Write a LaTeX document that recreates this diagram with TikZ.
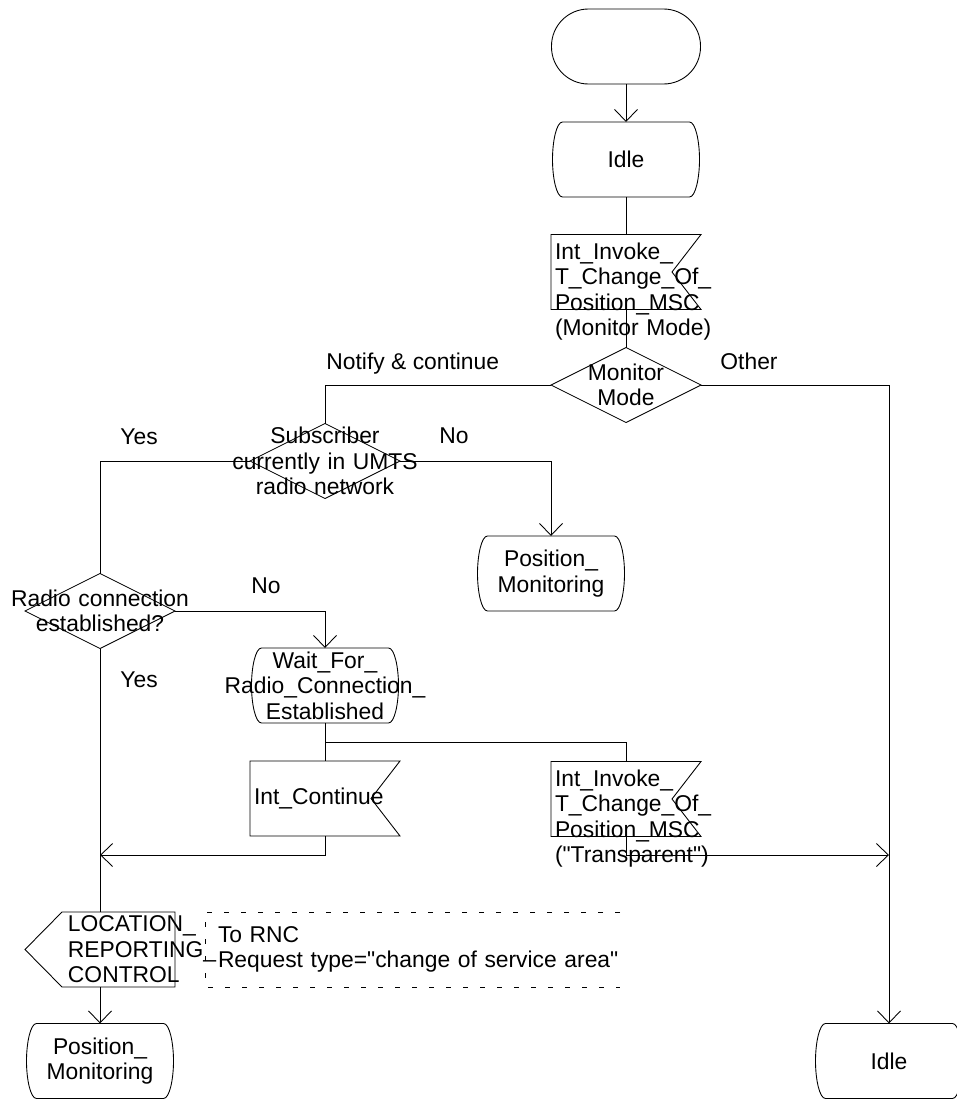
\documentclass[tikz,border=0pt]{standalone}
\usepackage{fontspec}
\setmainfont{Liberation Sans}[Ligatures=TeXOff]
\usetikzlibrary{arrows.meta,calc}

\tikzset{
  ctext/.style={execute at begin node={\leftskip=0pt plus 1fil minus 10cm
      \rightskip=\leftskip\parfillskip=0pt\let\\\par}},
  ltext/.style={execute at begin node={\leftskip=#1\rightskip=0pt plus 1fil minus 10cm
      \parfillskip=0pt\let\\\par}},
  ltext/.default=0pt,
  startbox/.style={draw,rounded corners=0.74cm,minimum width=2.98cm,minimum height=1.5cm},
  statebox/.style={ctext,inner sep=0pt,outer sep=0pt,text width=2.94cm,minimum height=1.5cm,
    append after command={\pgfextra{\pgfinterruptpath
      \draw ([xshift=0.2cm]\tikzlastnode.north west) -- ([xshift=-0.2cm]\tikzlastnode.north east)
        .. controls ([xshift=-0.08cm]\tikzlastnode.north east)
               and ([yshift=-0.38cm]\tikzlastnode.north east) .. (\tikzlastnode.east)
        .. controls ([yshift=0.38cm]\tikzlastnode.south east)
               and ([xshift=-0.08cm]\tikzlastnode.south east) .. ([xshift=-0.2cm]\tikzlastnode.south east)
        -- ([xshift=0.2cm]\tikzlastnode.south west)
        .. controls ([xshift=0.08cm]\tikzlastnode.south west)
               and ([yshift=0.38cm]\tikzlastnode.south west) .. (\tikzlastnode.west)
        .. controls ([yshift=-0.38cm]\tikzlastnode.north west)
               and ([xshift=0.08cm]\tikzlastnode.north west) .. cycle;
      \endpgfinterruptpath}}},
  decision/.style={ctext,inner sep=0pt,outer sep=0pt,text width=3cm,minimum height=1.5cm,
    append after command={\pgfextra{\pgfinterruptpath
      \draw (\tikzlastnode.north) -- (\tikzlastnode.east) -- (\tikzlastnode.south)
        -- (\tikzlastnode.west) -- cycle;
      \endpgfinterruptpath}}},
  inbox/.style={ltext,inner xsep=0.08cm,inner ysep=0pt,outer sep=0pt,text width=2.84cm,minimum height=1.5cm,
    append after command={\pgfextra{\pgfinterruptpath
      \draw (\tikzlastnode.north west) -- (\tikzlastnode.north east)
        -- ([xshift=-0.58cm]\tikzlastnode.east) -- (\tikzlastnode.south east)
        -- (\tikzlastnode.south west) -- cycle;
      \endpgfinterruptpath}}},
  intop/.style={text height=0.5cm,text depth=1cm},
  outbox/.style={ltext=0.86cm,inner sep=0pt,outer sep=0pt,text width=3cm,minimum height=1.5cm,
    append after command={\pgfextra{\pgfinterruptpath
      \draw ([xshift=0.74cm]\tikzlastnode.north west) -- (\tikzlastnode.north east)
        -- (\tikzlastnode.south east) -- ([xshift=0.74cm]\tikzlastnode.south west)
        -- (\tikzlastnode.west) -- cycle;
      \endpgfinterruptpath}}},
  dashline/.style={dash pattern=on 0.1cm off 0.24cm},
  note/.style={ltext,inner xsep=0.26cm,inner ysep=0pt,outer sep=0pt,text width=7.78cm,minimum height=1.5cm,
    append after command={\pgfextra{\pgfinterruptpath
      \draw[dashline] (\tikzlastnode.north east) -- (\tikzlastnode.north west)
        -- (\tikzlastnode.south west) -- (\tikzlastnode.south east);
      \endpgfinterruptpath}}},
  lbl/.style={anchor=base west,inner sep=0pt},
  flow/.style={-{Straight Barb[length=0.24cm,width=0.46cm]}}
}

\begin{document}
\begin{tikzpicture}[font=\fontsize{13}{14.5}\selectfont,line width=0.5pt]
  \useasboundingbox (0,0) rectangle (19.14,-22.02);

  \node[startbox] (start) at (12.52,-0.93) {};
  \node[statebox] (idle) at (12.52,-3.19) {Idle};
  \node[inbox,intop] (invoke) at (12.52,-5.44)
       {Int\_Invoke\_\\T\_Change\_Of\_\\Position\_MSC\\(Monitor Mode)};
  \node[decision] (mode) at (12.52,-7.70) {Monitor\\Mode};
  \node[decision] (umts) at (6.50,-9.22) {Subscriber\\currently in UMTS\\radio network};
  \node[statebox] (posmon) at (11.02,-11.47) {Position\_\\Monitoring};
  \node[decision] (radio) at (2.00,-12.22) {Radio connection\\established?};
  \node[statebox] (wait) at (6.50,-13.71) {Wait\_For\_\\Radio\_Connection\_\\Established};
  \node[inbox] (cont) at (6.50,-15.97) {Int\_Continue};
  \node[inbox,intop] (transp) at (12.52,-15.98)
       {Int\_Invoke\_\\T\_Change\_Of\_\\Position\_MSC\\("Transparent")};
  \node[outbox] (locrep) at (2.00,-18.99) {LOCATION\_\\REPORTING\_\\CONTROL};
  \node[note,anchor=west] (rnc) at (4.10,-18.99) {To RNC\\Request type="change of service area"};
  \node[statebox] (posmon2) at (2.00,-21.22) {Position\_\\Monitoring};
  \node[statebox] (idle2) at (17.78,-21.22) {Idle};

  % branch labels
  \node[lbl] (notify) at (6.52,-7.38) {Notify \& continue};
  \node[lbl] (other) at (14.40,-7.38) {Other};
  \node[lbl] (yes1) at (2.40,-8.88) {Yes};
  \node[lbl] (no1) at (8.78,-8.86) {No};
  \node[lbl] (no2) at (5.02,-11.86) {No};
  \node[lbl] (yes2) at (2.40,-13.74) {Yes};

  \coordinate (split) at ($(wait.south)!0.5!(cont.north)$);
  \coordinate (joinl) at (2.00,-17.10);
  \coordinate (joinr) at (17.78,-17.10);

  \draw[flow] (start) -- (idle);
  \draw (idle) -- (invoke);
  \draw (invoke) -- (mode);
  \draw (mode.west) -| (umts.north);
  \draw[flow] (mode.east) -| (idle2.north);
  \draw (umts.west) -| (radio.north);
  \draw[flow] (umts.east) -| (posmon.north);
  \draw[flow] (radio.east) -| (wait.north);
  \draw (radio.south) -- (locrep.north);
  \draw (wait) -- (cont);
  \draw (split) -| (transp.north);
  \draw[flow] (cont.south) |- (joinl);
  \draw[flow] (transp.south) |- (joinr);
  \draw[flow] (locrep) -- (posmon2);
\end{tikzpicture}
\end{document}
